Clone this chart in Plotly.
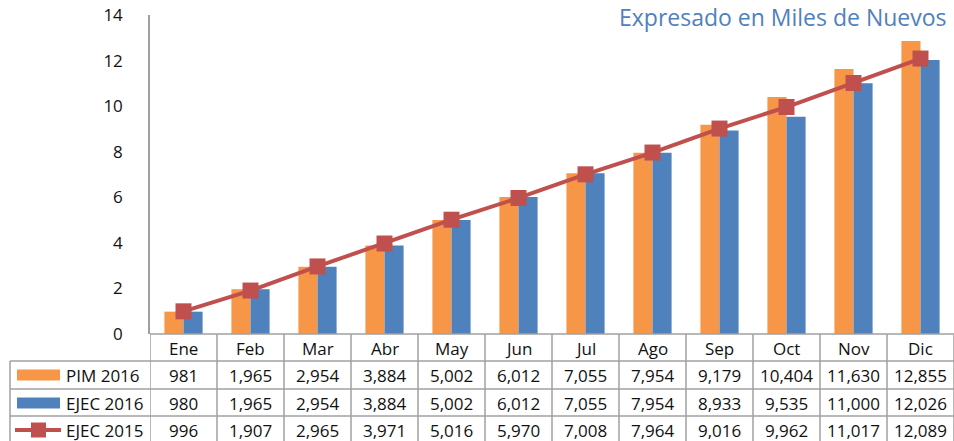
import plotly.graph_objects as go

months = ["Ene", "Feb", "Mar", "Abr", "May", "Jun", "Jul", "Ago", "Sep", "Oct", "Nov", "Dic"]
pim_2016 = [981, 1965, 2954, 3884, 5002, 6012, 7055, 7954, 9179, 10404, 11630, 12855]
ejec_2016 = [980, 1965, 2954, 3884, 5002, 6012, 7055, 7954, 8933, 9535, 11000, 12026]
ejec_2015 = [996, 1907, 2965, 3971, 5016, 5970, 7008, 7964, 9016, 9962, 11017, 12089]
series_names = ["PIM 2016", "EJEC 2016", "EJEC 2015"]
y_ticks = [0, 2, 4, 6, 8, 10, 12, 14]
title_text = "Expresado en Miles de Nuevos"

W, H = 954, 441
ORANGE = "#F79646"
BLUE = "#4F81BD"
RED = "#C0504D"
GRID = "#A0A0A0"
FONT = "Open Sans"

def py(px):
    return 1 - px / H

def pxx(px):
    return px / W

plot_left, plot_top, plot_bottom = 150, 15, 334
row_lines = [334, 361, 389, 416]
row_centers = [348, 375, 403, 430]
legend_left = 10

xi = list(range(len(months)))
fig = go.Figure()
fig.add_bar(x=xi, y=[v / 1000 for v in pim_2016], name=series_names[0],
            marker=dict(color=ORANGE, line=dict(width=0)))
fig.add_bar(x=xi, y=[v / 1000 for v in ejec_2016], name=series_names[1],
            marker=dict(color=BLUE, line=dict(width=0)))
fig.add_scatter(x=xi, y=[v / 1000 for v in ejec_2015], name=series_names[2],
                mode="lines+markers", line=dict(color=RED, width=4),
                marker=dict(symbol="square", size=16, color=RED))

shapes = []
ann = []
shapes.append(dict(type="line", xref="paper", yref="paper", x0=pxx(plot_left), x1=1,
                   y0=py(row_lines[0]), y1=py(row_lines[0]), line=dict(color=GRID, width=1.5)))
for yl in row_lines[1:]:
    shapes.append(dict(type="line", xref="paper", yref="paper", x0=pxx(legend_left), x1=1,
                       y0=py(yl), y1=py(yl), line=dict(color=GRID, width=1.5)))
shapes.append(dict(type="line", xref="paper", yref="paper", x0=pxx(legend_left), x1=pxx(legend_left),
                   y0=py(row_lines[1]), y1=0, line=dict(color=GRID, width=1.5)))
for i in range(len(months) + 1):
    shapes.append(dict(type="line", xref="x", yref="paper", x0=i - 0.5, x1=i - 0.5,
                       y0=py(row_lines[0]), y1=0, line=dict(color=GRID, width=1.5)))

tf = dict(family=FONT, size=17, color="#111111")
rows = [pim_2016, ejec_2016, ejec_2015]
for i, m in enumerate(months):
    ann.append(dict(x=i, y=py(row_centers[0]), xref="x", yref="paper", text=m, showarrow=False,
                    font=tf, xanchor="center", yanchor="middle"))
    for r, vals in enumerate(rows):
        ann.append(dict(x=i, y=py(row_centers[r + 1]), xref="x", yref="paper",
                        text=f"{vals[i]:,}", showarrow=False, font=tf,
                        xanchor="center", yanchor="middle"))

for r, name in enumerate(series_names):
    yc = row_centers[r + 1]
    if r < 2:
        col = ORANGE if r == 0 else BLUE
        shapes.append(dict(type="rect", xref="paper", yref="paper", x0=pxx(17), x1=pxx(60),
                           y0=py(yc + 5.5), y1=py(yc - 5.5), fillcolor=col, line=dict(width=0)))
    else:
        shapes.append(dict(type="line", xref="paper", yref="paper", x0=pxx(15), x1=pxx(61),
                           y0=py(yc), y1=py(yc), line=dict(color=RED, width=4)))
        shapes.append(dict(type="rect", xref="paper", yref="paper", x0=pxx(31), x1=pxx(46),
                           y0=py(yc + 7.5), y1=py(yc - 7.5), fillcolor=RED, line=dict(width=0)))
    ann.append(dict(x=pxx(64), y=py(yc), xref="paper", yref="paper", text=name, showarrow=False,
                    font=tf, xanchor="left", yanchor="middle"))

ann.append(dict(x=pxx(948), y=1, xref="paper", yref="paper", text=title_text, showarrow=False,
                font=dict(family=FONT, size=23, color=BLUE), xanchor="right", yanchor="top",
                borderpad=0))

fig.update_layout(
    width=W, height=H, autosize=False,
    margin=dict(l=0, r=0, t=0, b=0, pad=0),
    paper_bgcolor="white", plot_bgcolor="white",
    showlegend=False, barmode="group", bargap=0.43, bargroupgap=0,
    shapes=shapes, annotations=ann,
    xaxis=dict(domain=[pxx(plot_left), 1], range=[-0.5, 11.5], showticklabels=False,
               showgrid=False, zeroline=False, showline=False, fixedrange=True, automargin=False),
    yaxis=dict(domain=[py(plot_bottom), py(plot_top)], range=[0, 14], tickvals=y_ticks,
               showgrid=False, zeroline=False, showline=True, linecolor=GRID, linewidth=1.5,
               ticks="", ticklabelstandoff=22, automargin=False,
               tickfont=dict(family=FONT, size=17, color="#111111")),
)

fig.write_html("out.html", config={"displayModeBar": False},
               post_script="document.body.style.margin='0';document.body.style.padding='0';")
